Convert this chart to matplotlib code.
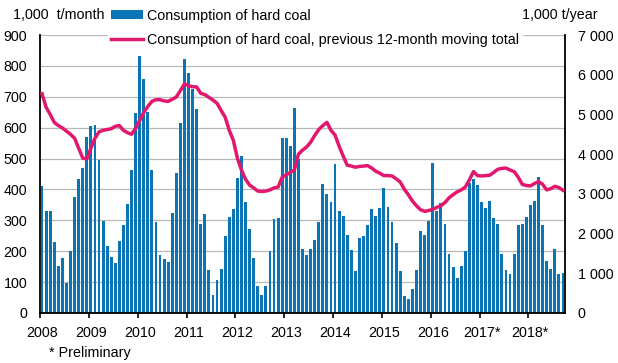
import matplotlib.pyplot as plt
import matplotlib.transforms as mtransforms
from matplotlib.ticker import FuncFormatter

plt.rcParams['font.family'] = ['Liberation Sans', 'DejaVu Sans']

# monthly consumption, 1,000 t/month, Jan 2008 .. Sep 2018
monthly = [412, 330, 330, 231, 152, 178, 98, 200, 376, 434, 470, 571,
           607, 610, 496, 298, 217, 181, 161, 233, 285, 354, 464, 649,
           831, 756, 650, 464, 296, 187, 176, 165, 324, 454, 616, 823,
           776, 726, 659, 288, 321, 139, 57, 106, 142, 249, 311, 337,
           438, 509, 360, 271, 178, 87, 57, 87, 200, 303, 308, 568,
           568, 542, 665, 500, 207, 187, 207, 236, 296, 418, 386, 360,
           483, 330, 314, 252, 204, 135, 243, 249, 285, 337, 314, 340,
           405, 343, 296, 226, 135, 54, 46, 78, 139, 265, 252, 298,
           486, 330, 356, 288, 191, 148, 113, 152, 200, 420, 435, 416,
           359, 340, 363, 308, 288, 191, 139, 126, 191, 285, 288, 311,
           350, 363, 441, 285, 168, 142, 207, 126, 129]

# previous 12-month moving total, 1,000 t/year
moving = [5520, 5180, 5000, 4800, 4720, 4660, 4580, 4500, 4400, 4150, 3900, 3880,
          4150, 4400, 4560, 4600, 4620, 4640, 4700, 4720, 4600, 4540, 4500, 4650,
          4850, 5050, 5200, 5330, 5370, 5370, 5340, 5330, 5380, 5440, 5600, 5770,
          5720, 5700, 5690, 5530, 5500, 5430, 5360, 5280, 5100, 4930, 4600, 4350,
          3900, 3600, 3370, 3220, 3150, 3070, 3060, 3070, 3100, 3150, 3170, 3420,
          3480, 3540, 3600, 4000, 4100, 4180, 4300, 4470, 4620, 4720, 4800, 4600,
          4480, 4200, 3950, 3720, 3700, 3670, 3690, 3700, 3710, 3650, 3570, 3520,
          3460, 3460, 3450, 3380, 3300, 3120, 2980, 2820, 2700, 2600, 2560, 2580,
          2610, 2660, 2700, 2780, 2900, 2980, 3050, 3100, 3170, 3350, 3560, 3460,
          3450, 3460, 3470, 3540, 3620, 3640, 3650, 3600, 3560, 3420, 3240, 3210,
          3200, 3260, 3310, 3240, 3100, 3130, 3190, 3160, 3090]

years = ['2008', '2009', '2010', '2011', '2012', '2013', '2014', '2015',
         '2016', '2017*', '2018*']

blue = '#0a74b5'
pink = '#e2186f'
fs = 10.3
x = list(range(len(monthly)))

fig = plt.figure(figsize=(6.18, 3.63), dpi=100)
ax = fig.add_axes([40 / 618, 1 - 313 / 363, 525 / 618, 278 / 363])
bars = ax.bar(x, monthly, width=0.7, color=blue, zorder=2)
ax.set_xlim(-0.5, len(monthly) - 0.5)
ax.set_ylim(0, 900)
ax.set_yticks(range(0, 901, 100))
ax.grid(axis='y', color='#b8b8b8', linewidth=0.9, zorder=0)
ax.set_axisbelow(True)
ax.set_xticks([12 * k - 0.5 for k in range(len(years))])
ax.set_xticklabels(years)
ax.tick_params(axis='x', length=3.5, width=1.2, direction='out', labelsize=fs, pad=6)
ax.tick_params(axis='y', length=0, labelsize=fs, pad=9)
shift = mtransforms.ScaledTranslation(2 / 100, 0, fig.dpi_scale_trans)
for lab in ax.get_xticklabels():
    lab.set_transform(lab.get_transform() + shift)
ax.spines['top'].set_visible(False)
ax.spines['right'].set_visible(False)
for s in ('left', 'bottom'):
    ax.spines[s].set_linewidth(1.3)

ax2 = ax.twinx()
line, = ax2.plot(x, moving, color=pink, linewidth=2.5, zorder=3)
ax2.set_ylim(0, 7000)
ax2.set_yticks(range(0, 7001, 1000))
ax2.yaxis.set_major_formatter(FuncFormatter(lambda v, p: f'{int(v):,}'.replace(',', ' ')))
ax2.tick_params(axis='y', length=0, labelsize=fs, pad=9)
ax2.spines['top'].set_visible(False)
ax2.spines['left'].set_visible(False)
ax2.spines['bottom'].set_visible(False)
ax2.spines['right'].set_linewidth(1.3)

fig.text(13 / 618, 1 - 15 / 363, '1,000  t/month', fontsize=fs, va='center', ha='left')
fig.text(598 / 618, 1 - 15 / 363, '1,000 t/year', fontsize=fs, va='center', ha='right')
fig.text(49 / 618, 1 - 353 / 363, '* Preliminary', fontsize=fs, va='center', ha='left')

leg = fig.legend([bars, line],
                 ['Consumption of hard coal',
                  'Consumption of hard coal, previous 12-month moving total'],
                 loc='upper left', bbox_to_anchor=(108 / 618, 1 - 6 / 363),
                 fontsize=fs, frameon=True, fancybox=False, framealpha=1,
                 edgecolor='white', handlelength=2.25, handleheight=0.55,
                 handletextpad=0.3, labelspacing=0.7, borderpad=0.2,
                 borderaxespad=0)

fig.savefig('out.png', dpi=100)
